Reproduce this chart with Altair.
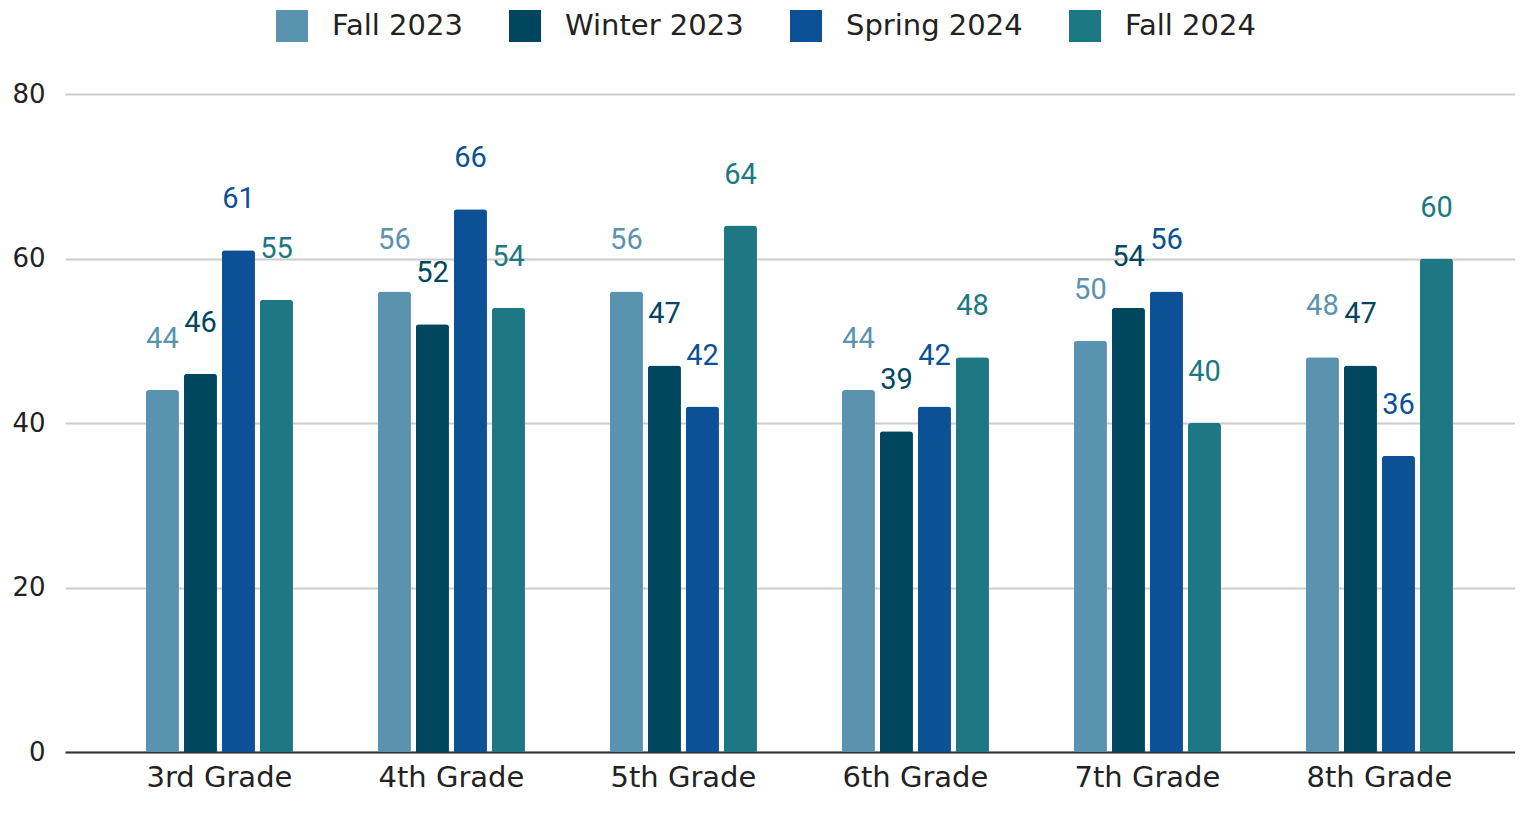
import altair as alt
import pandas as pd

grades = ["3rd Grade", "4th Grade", "5th Grade", "6th Grade", "7th Grade", "8th Grade"]
series = ["Fall 2023", "Winter 2023", "Spring 2024", "Fall 2024"]
fall_2023 = [44, 56, 56, 44, 50, 48]
winter_2023 = [46, 52, 47, 39, 54, 47]
spring_2024 = [61, 66, 42, 42, 56, 36]
fall_2024 = [55, 54, 64, 48, 40, 60]
colors = ["#5a93b0", "#00465f", "#0c5095", "#1d7884"]
y_ticks = [0, 20, 40, 60, 80]

rows = []
for s, vals in zip(series, [fall_2023, winter_2023, spring_2024, fall_2024]):
    for g, v in zip(grades, vals):
        rows.append({"grade": g, "series": s, "value": v})
df = pd.DataFrame(rows)

color_scale = alt.Scale(domain=series, range=colors)
x_scale = alt.Scale(paddingInner=0.366, paddingOuter=0.308, align=0.566)
xoff_scale = alt.Scale(paddingInner=0.13, paddingOuter=0)
y_scale = alt.Scale(domain=[0, 80], nice=False)

bars = alt.Chart(df).mark_bar(cornerRadiusTopLeft=3, cornerRadiusTopRight=3).encode(
    x=alt.X("grade:N", sort=grades, title=None, scale=x_scale),
    xOffset=alt.XOffset("series:N", sort=series, scale=xoff_scale),
    y=alt.Y("value:Q", title=None, scale=y_scale, axis=alt.Axis(values=y_ticks)),
    color=alt.Color(
        "series:N",
        sort=series,
        scale=color_scale,
        title=None,
        legend=alt.Legend(
            orient="none",
            legendX=211,
            legendY=-84,
            direction="horizontal",
            symbolType="square",
            symbolSize=1024,
            symbolStrokeWidth=0,
            labelFont="DejaVu Sans",
            labelFontSize=29,
            labelColor="#222222",
            labelOffset=24,
            labelLimit=0,
            columnPadding=46,
            padding=0,
        ),
    ),
)

labels = alt.Chart(df).mark_text(
    font="Roboto", fontSize=29, baseline="middle", align="center", dy=-51
).encode(
    x=alt.X("grade:N", sort=grades, title=None),
    xOffset=alt.XOffset("series:N", sort=series),
    y=alt.Y("value:Q", title=None, axis=alt.Axis(values=y_ticks)),
    text=alt.Text("value:Q"),
    color=alt.Color("series:N", sort=series, scale=color_scale, legend=None),
)

chart = (
    alt.layer(bars, labels)
    .properties(
        width=1450,
        height=658,
        background="white",
        autosize=alt.AutoSizeParams(type="none"),
        padding={"left": 57, "top": 86, "right": 0, "bottom": 48},
    )
    .configure_view(strokeWidth=0, stroke="transparent")
    .configure_axisX(
        labelAngle=0,
        labelFont="DejaVu Sans",
        labelFontSize=29,
        labelColor="#222222",
        labelPadding=11,
        ticks=False,
        domain=True,
        domainColor="#333333",
        domainWidth=2,
        grid=False,
    )
    .configure_axisY(
        labelFont="DejaVu Sans",
        labelFontSize=26,
        labelColor="#222222",
        labelPadding=20,
        ticks=False,
        domain=False,
        grid=True,
        gridColor="#cccccc",
        gridWidth=2,
    )
)

chart.save("out.html", embed_options={"renderer": "svg", "actions": False})
